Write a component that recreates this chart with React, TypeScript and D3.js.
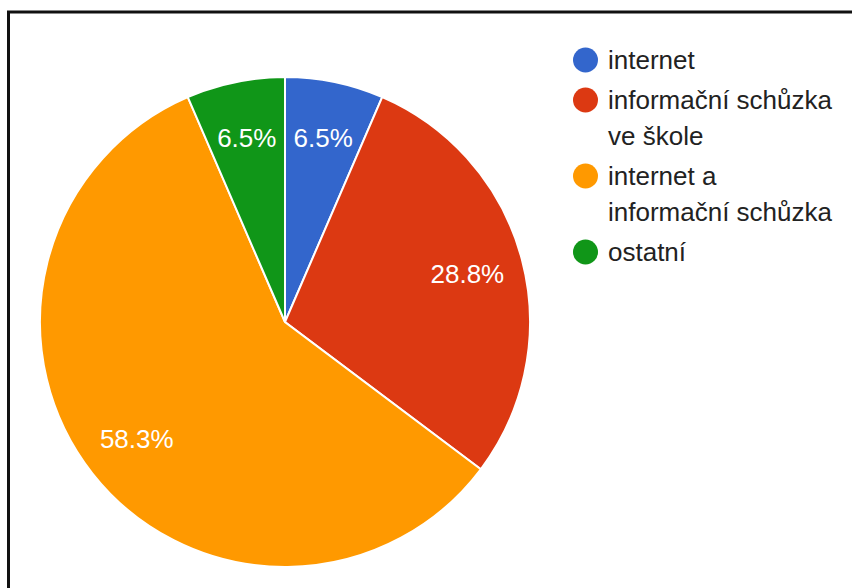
import React from "react";
import * as d3 from "d3";

const categories = ["internet", "informační schůzka ve škole", "internet a informační schůzka", "ostatní"];
const legendLines = [["internet"], ["informační schůzka", "ve škole"], ["internet a", "informační schůzka"], ["ostatní"]];
const values = [6.5, 28.8, 58.3, 6.5];
const valueLabels = ["6.5%", "28.8%", "58.3%", "6.5%"];
const colors = ["#3366cc", "#dc3912", "#ff9900", "#109618"];

export default function App() {
  const W = 852, H = 588;
  const cx = 285, cy = 322, R = 245;
  const pie = d3.pie<number>().sort(null).value((d) => d)(values);
  const arc = d3.arc<d3.PieArcDatum<number>>().innerRadius(0).outerRadius(R);
  const labelArc = d3.arc<d3.PieArcDatum<number>>().innerRadius(R * 0.77).outerRadius(R * 0.77);
  const font = "Arial, 'Liberation Sans', sans-serif";

  let ly = 60;
  const legendItems = legendLines.map((lines, i) => {
    const y0 = ly;
    ly += lines.length * 36 + 4;
    return (
      <g key={i}>
        <circle cx={585.5} cy={y0} r={12.5} fill={colors[i]} />
        {lines.map((t, j) => (
          <text key={j} x={608} y={y0 + j * 36} dy="0.36em" fontSize={26} fill="#222" fontFamily={font}>
            {t}
          </text>
        ))}
      </g>
    );
  });

  return (
    <svg width={W} height={H} style={{ position: "absolute", left: 0, top: 0 }} xmlns="http://www.w3.org/2000/svg">
      <rect x={0} y={0} width={W} height={H} fill="#fff" />
      <rect x={8.5} y={12} width={W + 20} height={H + 20} fill="none" stroke="#111" strokeWidth={3} />
      <g transform={`translate(${cx},${cy})`}>
        {pie.map((p, i) => (
          <path key={categories[i]} d={arc(p) || ""} fill={colors[i]} stroke="#fff" strokeWidth={2} />
        ))}
        {pie.map((p, i) => {
          const [x, y] = labelArc.centroid(p);
          return (
            <text key={i} x={x} y={y} textAnchor="middle" dy="0.36em" fontSize={26} fill="#fff" fontFamily={font}>
              {valueLabels[i]}
            </text>
          );
        })}
      </g>
      {legendItems}
    </svg>
  );
}
